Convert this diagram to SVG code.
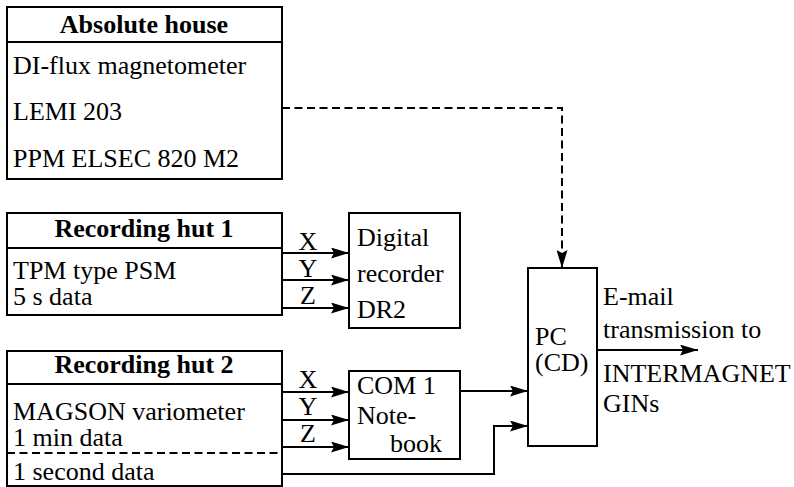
<svg xmlns="http://www.w3.org/2000/svg" width="794" height="487" viewBox="0 0 794 487">
  <style>
    .box { fill: #fff; stroke: #000; stroke-width: 2; }
    .ln { fill: none; stroke: #000; stroke-width: 2; }
    .dash { fill: none; stroke: #000; stroke-width: 2; stroke-dasharray: 8 4.5; }
    text { font-family: "Liberation Serif", "Times New Roman", serif; font-size: 26px; fill: #000; }
    .hd { font-weight: bold; text-anchor: middle; }
    .mid { text-anchor: middle; }
  </style>
  <defs>
    <marker id="arr" viewBox="0 0 18 11" refX="18" refY="5.5" markerWidth="18" markerHeight="11" markerUnits="userSpaceOnUse" orient="auto">
      <path d="M0,0 L18,5.5 L0,11 L3,5.5 z" fill="#000"/>
    </marker>
  </defs>

  <g id="absolute-house">
    <rect class="box" x="7" y="7" width="275" height="172"/>
    <line class="ln" x1="7" y1="42" x2="282" y2="42"/>
    <text class="hd" x="144" y="33">Absolute house</text>
    <text x="13" y="74">DI-flux magnetometer</text>
    <text x="13" y="120">LEMI 203</text>
    <text x="13" y="167">PPM ELSEC 820 M2</text>
  </g>

  <g id="recording-hut-1">
    <rect class="box" x="7" y="213" width="275" height="102"/>
    <line class="ln" x1="7" y1="248" x2="282" y2="248"/>
    <text class="hd" x="144" y="237">Recording hut 1</text>
    <text x="13" y="279">TPM type PSM</text>
    <text x="13" y="305">5 s data</text>
  </g>

  <g id="digital-recorder">
    <rect class="box" x="349" y="213" width="111" height="115"/>
    <text x="357" y="246">Digital</text>
    <text x="357" y="282">recorder</text>
    <text x="357" y="318">DR2</text>
  </g>

  <g id="recording-hut-2">
    <rect class="box" x="7" y="351" width="275" height="135"/>
    <line class="ln" x1="7" y1="384" x2="282" y2="384"/>
    <line class="dash" x1="7" y1="453" x2="282" y2="453"/>
    <text class="hd" x="144" y="373">Recording hut 2</text>
    <text x="13" y="420">MAGSON variometer</text>
    <text x="13" y="446">1 min data</text>
    <text x="13" y="480">1 second data</text>
  </g>

  <g id="notebook">
    <rect class="box" x="349" y="371" width="111" height="88"/>
    <text x="357" y="394">COM 1</text>
    <text x="357" y="424">Note-</text>
    <text x="390" y="452">book</text>
  </g>

  <g id="pc">
    <rect class="box" x="528" y="268" width="69" height="178"/>
    <text x="535" y="345">PC</text>
    <text x="535" y="371">(CD)</text>
  </g>

  <g id="intermagnet-label">
    <text x="603" y="305">E-mail</text>
    <text x="603" y="338">transmission to</text>
    <text x="603" y="382">INTERMAGNET</text>
    <text x="603" y="412">GINs</text>
  </g>

  <g id="connectors">
    <!-- absolutes to PC -->
    <path class="dash" d="M282,108 H562 V268" marker-end="url(#arr)"/>
    <!-- hut 1 components -->
    <line class="ln" x1="282" y1="253" x2="349" y2="253" marker-end="url(#arr)"/>
    <line class="ln" x1="282" y1="280" x2="349" y2="280" marker-end="url(#arr)"/>
    <line class="ln" x1="282" y1="308" x2="349" y2="308" marker-end="url(#arr)"/>
    <text class="mid" x="308" y="250">X</text>
    <text class="mid" x="308" y="277">Y</text>
    <text class="mid" x="308" y="304">Z</text>
    <!-- hut 2 components -->
    <line class="ln" x1="282" y1="392" x2="349" y2="392" marker-end="url(#arr)"/>
    <line class="ln" x1="282" y1="420" x2="349" y2="420" marker-end="url(#arr)"/>
    <line class="ln" x1="282" y1="447" x2="349" y2="447" marker-end="url(#arr)"/>
    <text class="mid" x="308" y="388">X</text>
    <text class="mid" x="308" y="415">Y</text>
    <text class="mid" x="308" y="442">Z</text>
    <!-- notebook and 1 s data to PC -->
    <line class="ln" x1="460" y1="391" x2="528" y2="391" marker-end="url(#arr)"/>
    <path class="ln" d="M282,474 H494 V426 H528" marker-end="url(#arr)"/>
    <!-- PC output -->
    <line class="ln" x1="597" y1="350" x2="698" y2="350" marker-end="url(#arr)"/>
  </g>
</svg>
